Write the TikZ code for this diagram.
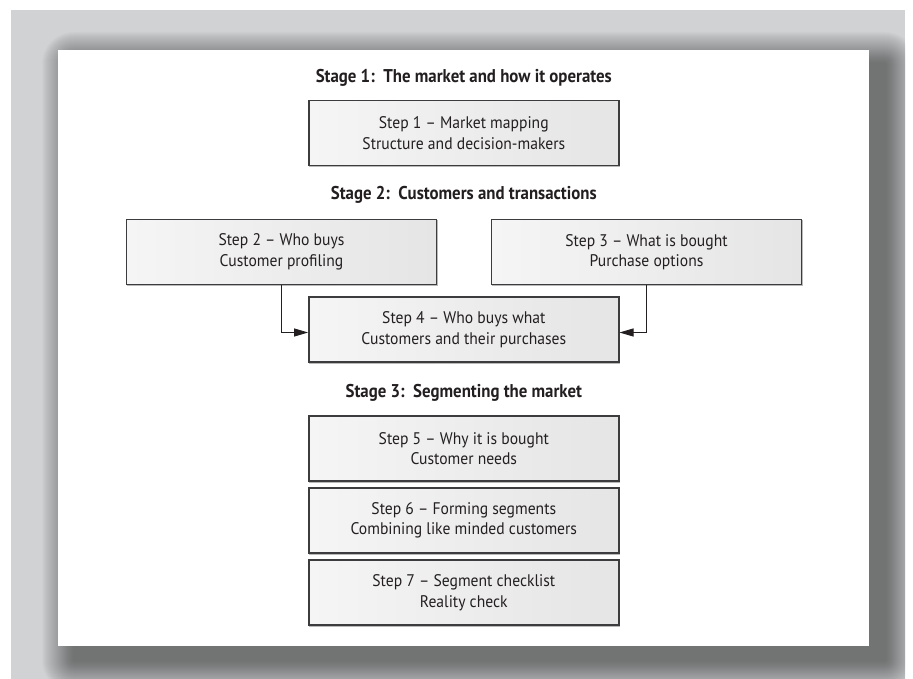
\documentclass[tikz,border=0pt]{standalone}
\usepackage{fontspec}
\setmainfont{PT Sans}[FakeStretch=0.93, BoldFeatures={FakeStretch=0.91}]
\usetikzlibrary{arrows.meta}
\definecolor{bggrey}{RGB}{209,210,212}
\definecolor{boxl}{RGB}{245,245,245}
\definecolor{boxr}{RGB}{229,229,230}
\definecolor{ink}{RGB}{35,31,32}
\definecolor{edge}{RGB}{60,60,62}
\tikzset{
  stepbox/.style={draw=edge, line width=1.4pt, left color=boxl, right color=boxr,
    minimum width=310pt, minimum height=65pt, inner sep=0pt, align=center,
    text=ink, font=\fontsize{16.8}{20.5}\selectfont,
    preaction={draw=gray!55, line width=1.3pt, transform canvas={xshift=0.9pt,yshift=-0.9pt}}},
  stagetitle/.style={text=ink, font=\fontsize{18.5}{22}\selectfont\bfseries, inner sep=0pt},
  link/.style={draw=ink, line width=0.9pt, -{Triangle[length=14pt,width=8pt]}}
}
\begin{document}
\begin{tikzpicture}[x=1pt,y=-1pt]
\useasboundingbox (0,0) rectangle (913,679);
\fill[white] (0,0) rectangle (913,679);
\fill[bggrey] (11,10) rectangle (905,679);
% soft shadow of the panel
\begin{scope}
\clip (11,10) rectangle (905,679);
\foreach \e in {32,31,...,1}{
  \fill[black, fill opacity=0.0145, rounded corners=\e pt]
    (74-\e,64-\e) rectangle (885+\e,660+\e);
}
\end{scope}
\fill[white] (58,50) rectangle (869,646);

\node[stagetitle] (t1) at (463.8,78) {Stage 1:\ \ The market and how it operates};
\node[stepbox] (s1) at (463.8,133.2) {Step 1 – Market mapping\\Structure and decision-makers};
\node[stagetitle] (t2) at (463.8,195) {Stage 2:\ \ Customers and transactions};
\node[stepbox] (s2) at (281.5,252) {Step 2 – Who buys\\Customer profiling};
\node[stepbox] (s3) at (646.5,252) {Step 3 – What is bought\\Purchase options};
\node[stepbox] (s4) at (463.8,329.5) {Step 4 – Who buys what\\Customers and their purchases};
\node[stagetitle] (t3) at (463.8,393) {Stage 3:\ \ Segmenting the market};
\node[stepbox] (s5) at (463.8,448.5) {Step 5 – Why it is bought\\Customer needs};
\node[stepbox] (s6) at (463.8,520.5) {Step 6 – Forming segments\\Combining like minded customers};
\node[stepbox] (s7) at (463.8,592.5) {Step 7 – Segment checklist\\Reality check};

\draw[link] (s2.south) |- ([yshift=-3pt]s4.west);
\draw[link] (s3.south) |- ([yshift=-3pt]s4.east);
\end{tikzpicture}
\end{document}
